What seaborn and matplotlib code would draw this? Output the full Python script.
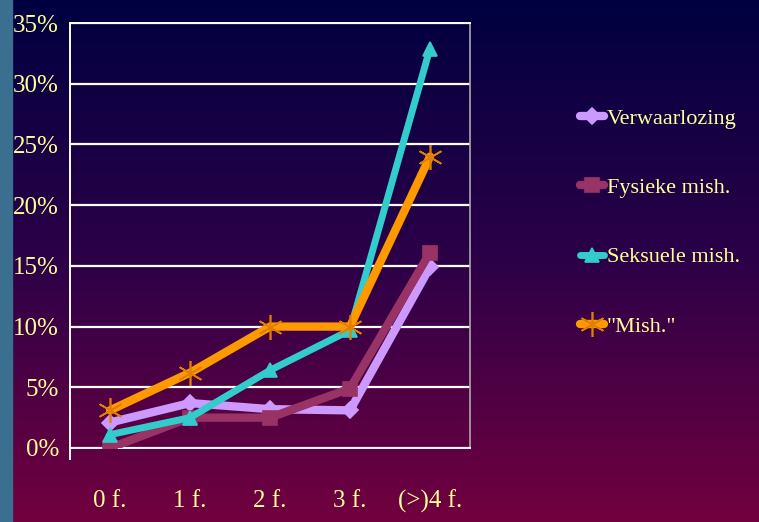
import numpy as np
import pandas as pd
import matplotlib
matplotlib.use("Agg")
import matplotlib.pyplot as plt
import seaborn as sns
from matplotlib.colors import LinearSegmentedColormap

# data
categories = ["0 f.", "1 f.", "2 f.", "3 f.", "(>)4 f."]
verwaarlozing = [2.1, 3.7, 3.2, 3.1, 14.9]
fysieke = [0.0, 2.5, 2.5, 4.9, 16.1]
seksuele = [1.1, 2.5, 6.4, 9.7, 32.9]
mish = [3.1, 6.2, 10.0, 10.0, 24.0]
series_names = ["Verwaarlozing", "Fysieke mish.", "Seksuele mish.", "\"Mish.\""]

colors = ["#cc99ff", "#993366", "#33cccc", "#ff9900"]
markers = ["D", "s", "^", (6, 2, 0)]
widths = [6, 6, 5, 6]
msizes = [8, 10, 10, 18]
text_color = "#ffff99"

sns.set_theme(style="white")
plt.rcParams["font.family"] = ["Liberation Serif", "DejaVu Serif"]

df = pd.DataFrame({
    "x": list(range(len(categories))) * 4,
    "value": verwaarlozing + fysieke + seksuele + mish,
    "series": np.repeat(series_names, len(categories)),
})

fig = plt.figure(figsize=(7.59, 5.22), dpi=100)

# background gradient (navy -> purple -> crimson) with blue strip on the left
bg = fig.add_axes([0, 0, 1, 1], zorder=-10)
cmap = LinearSegmentedColormap.from_list(
    "bg", [(0, "#000040"), (0.5, "#2c0048"), (1, "#72003f")])
grad = np.linspace(0, 1, 256).reshape(-1, 1)
bg.imshow(grad, aspect="auto", cmap=cmap, extent=[0, 1, 0, 1], origin="upper")
bg.axvspan(0, 12 / 759, color="#3b6f90")
bg.set_xlim(0, 1)
bg.set_ylim(0, 1)
bg.axis("off")

ax = fig.add_axes([70 / 759, 1 - 448 / 522, 400 / 759, 425 / 522])
ax.set_facecolor("none")

for name, c, m, lw, ms in zip(series_names, colors, markers, widths, msizes):
    sub = df[df["series"] == name]
    sns.lineplot(data=sub, x="x", y="value", ax=ax, color=c, linewidth=lw,
                 marker=m, markersize=ms, markeredgecolor=c if m != (6, 2, 0) else "#e08000",
                 markeredgewidth=1.2, label=name, legend=False, zorder=3)

ax.set_xlim(-0.5, 4.5)
ax.set_ylim(0, 35)
ax.set_yticks(np.arange(0, 36, 5))
ax.set_yticklabels([f"{v}%" for v in range(0, 36, 5)])
ax.yaxis.grid(True, color="white", linewidth=1.6)
ax.set_axisbelow(True)
ax.set_xticks(range(len(categories)))
ax.set_xticklabels(categories)
ax.set_xticks(np.arange(-0.5, 4.6, 1), minor=True)
ax.tick_params(axis="x", which="major", length=0, pad=30, colors=text_color, labelsize=18)
ax.tick_params(axis="x", which="minor", length=12, width=1.2, color="#dddddd", direction="out")
ax.tick_params(axis="y", length=5, width=1.2, color="white", colors=text_color, labelsize=18, pad=3)
for lab in ax.get_yticklabels() + ax.get_xticklabels():
    lab.set_color(text_color)
ax.set_xlabel("")
ax.set_ylabel("")
for side in ["left", "top", "bottom"]:
    ax.spines[side].set_color("white")
    ax.spines[side].set_linewidth(1.4)
ax.spines["right"].set_color("#aaaaaa")
ax.spines["right"].set_linewidth(1.2)
ax.spines["left"].set_bounds(-0.9, 35)

h, l = ax.get_legend_handles_labels()
leg = fig.legend(h, l, loc="upper left", bbox_to_anchor=(580 / 759, 1 - 108 / 522),
                 frameon=False, fontsize=16, labelspacing=2.2, handlelength=1.1,
                 handletextpad=0.1, borderaxespad=0, borderpad=0)
for t in leg.get_texts():
    t.set_color(text_color)

fig.savefig("out.png", dpi=100)
